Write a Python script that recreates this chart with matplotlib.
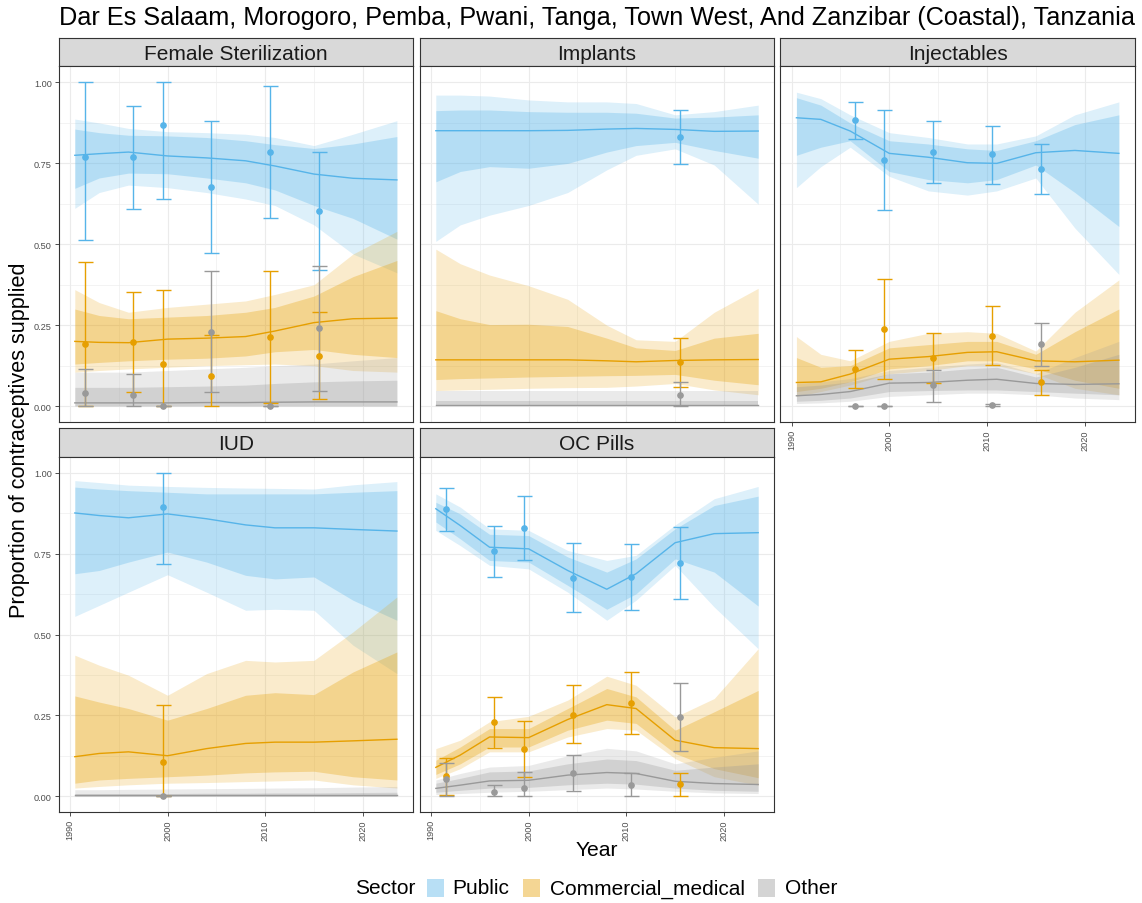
import matplotlib.pyplot as plt
from matplotlib.patches import Rectangle

plt.rcParams["font.family"] = ["Liberation Sans", "DejaVu Sans"]

SECTORS = ["Public", "Commercial_medical", "Other"]
SECTOR_COLORS = ["#56B4E9", "#E69F00", "#999999"]

# model grid shared by every panel
YEARS = [1990.5, 1993, 1996, 2000, 2004, 2008, 2011, 2015, 2019, 2023.5]

# rows: median, 80% low, 80% high, 95% low, 95% high
fs_public = [
    [0.775, 0.780, 0.785, 0.773, 0.767, 0.758, 0.742, 0.717, 0.704, 0.699],
    [0.673, 0.705, 0.720, 0.718, 0.705, 0.690, 0.668, 0.620, 0.580, 0.516],
    [0.856, 0.845, 0.837, 0.835, 0.830, 0.820, 0.808, 0.796, 0.810, 0.833],
    [0.611, 0.660, 0.683, 0.675, 0.660, 0.640, 0.620, 0.560, 0.470, 0.412],
    [0.887, 0.875, 0.858, 0.848, 0.845, 0.840, 0.830, 0.805, 0.840, 0.882],
]
fs_commercial = [
    [0.200, 0.197, 0.196, 0.207, 0.210, 0.215, 0.232, 0.258, 0.270, 0.272],
    [0.130, 0.135, 0.140, 0.145, 0.148, 0.155, 0.168, 0.175, 0.160, 0.150],
    [0.300, 0.280, 0.270, 0.275, 0.280, 0.290, 0.305, 0.340, 0.400, 0.450],
    [0.105, 0.110, 0.115, 0.120, 0.125, 0.128, 0.130, 0.125, 0.110, 0.105],
    [0.360, 0.320, 0.290, 0.305, 0.315, 0.325, 0.345, 0.375, 0.470, 0.540],
]
fs_other = [
    [0.010, 0.010, 0.010, 0.010, 0.011, 0.011, 0.012, 0.013, 0.013, 0.013],
    [0.001, 0.001, 0.001, 0.001, 0.001, 0.001, 0.001, 0.001, 0.001, 0.001],
    [0.058, 0.058, 0.058, 0.060, 0.062, 0.065, 0.070, 0.075, 0.078, 0.080],
    [0.000, 0.000, 0.000, 0.000, 0.000, 0.000, 0.000, 0.000, 0.000, 0.000],
    [0.105, 0.105, 0.105, 0.110, 0.115, 0.120, 0.125, 0.130, 0.140, 0.150],
]

imp_public = [
    [0.851, 0.851, 0.851, 0.851, 0.852, 0.856, 0.858, 0.855, 0.849, 0.850],
    [0.693, 0.725, 0.740, 0.735, 0.750, 0.785, 0.805, 0.815, 0.790, 0.766],
    [0.913, 0.915, 0.915, 0.910, 0.908, 0.908, 0.905, 0.890, 0.893, 0.900],
    [0.509, 0.560, 0.590, 0.620, 0.660, 0.730, 0.775, 0.795, 0.745, 0.624],
    [0.961, 0.961, 0.958, 0.946, 0.940, 0.940, 0.935, 0.900, 0.910, 0.930],
]
imp_commercial = [
    [0.143, 0.143, 0.143, 0.143, 0.143, 0.140, 0.137, 0.141, 0.143, 0.144],
    [0.082, 0.085, 0.087, 0.090, 0.092, 0.094, 0.095, 0.098, 0.080, 0.066],
    [0.295, 0.270, 0.252, 0.253, 0.246, 0.210, 0.180, 0.172, 0.210, 0.225],
    [0.048, 0.050, 0.052, 0.055, 0.057, 0.058, 0.062, 0.070, 0.050, 0.035],
    [0.485, 0.440, 0.405, 0.372, 0.330, 0.250, 0.205, 0.200, 0.290, 0.364],
]
imp_other = [
    [0.002, 0.002, 0.002, 0.002, 0.002, 0.002, 0.002, 0.002, 0.002, 0.002],
    [0.000, 0.000, 0.000, 0.000, 0.000, 0.000, 0.000, 0.000, 0.000, 0.000],
    [0.017, 0.017, 0.017, 0.017, 0.017, 0.017, 0.017, 0.017, 0.017, 0.017],
    [0.000, 0.000, 0.000, 0.000, 0.000, 0.000, 0.000, 0.000, 0.000, 0.000],
    [0.046, 0.046, 0.046, 0.046, 0.046, 0.046, 0.046, 0.046, 0.046, 0.046],
]

inj_public = [
    [0.891, 0.886, 0.850, 0.781, 0.769, 0.752, 0.750, 0.783, 0.790, 0.781],
    [0.775, 0.800, 0.820, 0.725, 0.700, 0.690, 0.700, 0.745, 0.660, 0.555],
    [0.953, 0.930, 0.875, 0.820, 0.810, 0.795, 0.790, 0.820, 0.870, 0.900],
    [0.675, 0.740, 0.800, 0.710, 0.665, 0.652, 0.665, 0.705, 0.550, 0.407],
    [0.970, 0.950, 0.900, 0.845, 0.830, 0.810, 0.810, 0.835, 0.900, 0.940],
]
inj_commercial = [
    [0.073, 0.075, 0.099, 0.145, 0.153, 0.166, 0.168, 0.140, 0.137, 0.142],
    [0.045, 0.055, 0.075, 0.115, 0.125, 0.140, 0.140, 0.115, 0.080, 0.055],
    [0.150, 0.120, 0.125, 0.180, 0.190, 0.200, 0.200, 0.160, 0.230, 0.300],
    [0.030, 0.045, 0.065, 0.100, 0.110, 0.125, 0.125, 0.100, 0.055, 0.035],
    [0.215, 0.160, 0.140, 0.200, 0.225, 0.230, 0.225, 0.170, 0.290, 0.390],
]
inj_other = [
    [0.032, 0.036, 0.045, 0.071, 0.073, 0.080, 0.083, 0.070, 0.067, 0.069],
    [0.015, 0.018, 0.025, 0.045, 0.048, 0.050, 0.050, 0.045, 0.040, 0.035],
    [0.060, 0.065, 0.075, 0.100, 0.105, 0.115, 0.120, 0.090, 0.120, 0.160],
    [0.008, 0.010, 0.015, 0.030, 0.035, 0.040, 0.040, 0.035, 0.025, 0.020],
    [0.070, 0.075, 0.085, 0.110, 0.120, 0.130, 0.135, 0.100, 0.150, 0.200],
]

iud_public = [
    [0.876, 0.868, 0.861, 0.873, 0.858, 0.839, 0.830, 0.830, 0.825, 0.820],
    [0.688, 0.698, 0.724, 0.755, 0.724, 0.683, 0.672, 0.678, 0.606, 0.544],
    [0.956, 0.950, 0.945, 0.940, 0.935, 0.935, 0.935, 0.935, 0.940, 0.945],
    [0.556, 0.590, 0.631, 0.685, 0.631, 0.575, 0.578, 0.575, 0.467, 0.379],
    [0.976, 0.970, 0.962, 0.958, 0.955, 0.953, 0.952, 0.950, 0.963, 0.973],
]
iud_commercial = [
    [0.122, 0.132, 0.137, 0.125, 0.147, 0.163, 0.167, 0.167, 0.171, 0.176],
    [0.040, 0.050, 0.055, 0.060, 0.065, 0.072, 0.075, 0.077, 0.060, 0.050],
    [0.310, 0.291, 0.271, 0.235, 0.271, 0.312, 0.320, 0.314, 0.384, 0.446],
    [0.025, 0.030, 0.035, 0.040, 0.042, 0.045, 0.047, 0.050, 0.035, 0.025],
    [0.436, 0.405, 0.374, 0.312, 0.379, 0.420, 0.415, 0.420, 0.508, 0.616],
]
iud_other = [
    [0.002, 0.002, 0.002, 0.002, 0.002, 0.002, 0.002, 0.002, 0.002, 0.002],
    [0.000, 0.000, 0.000, 0.000, 0.000, 0.000, 0.000, 0.000, 0.000, 0.000],
    [0.008, 0.008, 0.008, 0.008, 0.009, 0.009, 0.010, 0.010, 0.011, 0.012],
    [0.000, 0.000, 0.000, 0.000, 0.000, 0.000, 0.000, 0.000, 0.000, 0.000],
    [0.020, 0.020, 0.021, 0.022, 0.023, 0.024, 0.025, 0.026, 0.028, 0.030],
]

oc_public = [
    [0.889, 0.837, 0.770, 0.765, 0.698, 0.640, 0.688, 0.784, 0.812, 0.815],
    [0.848, 0.796, 0.729, 0.724, 0.652, 0.578, 0.626, 0.734, 0.693, 0.588],
    [0.909, 0.873, 0.810, 0.806, 0.740, 0.693, 0.734, 0.827, 0.899, 0.928],
    [0.822, 0.775, 0.714, 0.703, 0.631, 0.544, 0.606, 0.714, 0.585, 0.456],
    [0.935, 0.894, 0.827, 0.822, 0.760, 0.729, 0.745, 0.839, 0.920, 0.958],
]
oc_commercial = [
    [0.089, 0.127, 0.183, 0.181, 0.237, 0.283, 0.271, 0.173, 0.150, 0.147],
    [0.067, 0.100, 0.152, 0.152, 0.204, 0.235, 0.225, 0.132, 0.085, 0.057],
    [0.111, 0.152, 0.209, 0.209, 0.271, 0.333, 0.307, 0.204, 0.261, 0.327],
    [0.055, 0.085, 0.137, 0.137, 0.183, 0.209, 0.204, 0.116, 0.060, 0.034],
    [0.147, 0.173, 0.230, 0.247, 0.297, 0.371, 0.343, 0.245, 0.302, 0.456],
]
oc_other = [
    [0.024, 0.034, 0.047, 0.049, 0.065, 0.073, 0.070, 0.046, 0.039, 0.036],
    [0.012, 0.018, 0.025, 0.027, 0.035, 0.040, 0.037, 0.025, 0.018, 0.015],
    [0.040, 0.055, 0.075, 0.078, 0.100, 0.115, 0.110, 0.080, 0.090, 0.100],
    [0.005, 0.008, 0.012, 0.015, 0.020, 0.025, 0.022, 0.015, 0.010, 0.008],
    [0.050, 0.070, 0.090, 0.095, 0.125, 0.148, 0.140, 0.100, 0.120, 0.140],
]

# survey estimates: rows are value, low, high
fs_years = [1991.5, 1996.5, 1999.5, 2004.5, 2010.5, 2015.5]
fs_obs_public = [
    [0.769, 0.769, 0.869, 0.677, 0.786, 0.602],
    [0.512, 0.610, 0.641, 0.474, 0.582, 0.420],
    [1.000, 0.926, 1.000, 0.880, 0.990, 0.784],
]
fs_obs_commercial = [
    [0.193, 0.198, 0.131, 0.093, 0.213, 0.156],
    [0.000, 0.043, 0.000, 0.000, 0.010, 0.023],
    [0.444, 0.354, 0.358, 0.220, 0.417, 0.292],
]
fs_obs_other = [
    [0.039, 0.034, 0.000, 0.230, 0.000, 0.241],
    [0.000, 0.000, 0.000, 0.045, 0.000, 0.048],
    [0.115, 0.100, 0.000, 0.416, 0.000, 0.434],
]

imp_years = [2015.5]
imp_obs_public = [[0.832], [0.749], [0.915]]
imp_obs_commercial = [[0.137], [0.059], [0.212]]
imp_obs_other = [[0.034], [0.000], [0.073]]

inj_years = [1996.5, 1999.5, 2004.5, 2010.5, 2015.5]
inj_obs_public = [
    [0.883, 0.759, 0.785, 0.778, 0.733],
    [0.824, 0.605, 0.689, 0.687, 0.654],
    [0.941, 0.914, 0.881, 0.866, 0.810],
]
inj_obs_commercial = [
    [0.115, 0.239, 0.150, 0.218, 0.074],
    [0.057, 0.084, 0.072, 0.128, 0.035],
    [0.174, 0.393, 0.227, 0.308, 0.112],
]
inj_obs_other = [
    [0.000, 0.000, 0.064, 0.003, 0.192],
    [0.000, 0.000, 0.013, 0.000, 0.124],
    [0.000, 0.000, 0.112, 0.007, 0.258],
]

iud_years = [1999.5]
iud_obs_public = [[0.895], [0.719], [1.000]]
iud_obs_commercial = [[0.105], [0.000], [0.281]]
iud_obs_other = [[0.000], [0.000], [0.000]]

oc_years = [1991.5, 1996.5, 1999.5, 2004.5, 2010.5, 2015.5]
oc_obs_public = [
    [0.888, 0.758, 0.830, 0.676, 0.677, 0.720],
    [0.820, 0.679, 0.730, 0.570, 0.575, 0.609],
    [0.954, 0.837, 0.929, 0.782, 0.779, 0.831],
]
oc_obs_commercial = [
    [0.063, 0.229, 0.145, 0.252, 0.288, 0.037],
    [0.002, 0.150, 0.059, 0.163, 0.193, 0.000],
    [0.119, 0.306, 0.232, 0.343, 0.385, 0.072],
]
oc_obs_other = [
    [0.054, 0.014, 0.026, 0.072, 0.035, 0.245],
    [0.000, 0.000, 0.000, 0.016, 0.000, 0.139],
    [0.103, 0.033, 0.075, 0.128, 0.071, 0.350],
]

TITLE = "Dar Es Salaam, Morogoro, Pemba, Pwani, Tanga, Town West, And Zanzibar (Coastal), Tanzania"

# (name, row, col, bands, survey years, survey estimates, show x labels)
panels = [
    ("Female Sterilization", 0, 0, [fs_public, fs_commercial, fs_other], fs_years,
     [fs_obs_public, fs_obs_commercial, fs_obs_other], False),
    ("Implants", 0, 1, [imp_public, imp_commercial, imp_other], imp_years,
     [imp_obs_public, imp_obs_commercial, imp_obs_other], False),
    ("Injectables", 0, 2, [inj_public, inj_commercial, inj_other], inj_years,
     [inj_obs_public, inj_obs_commercial, inj_obs_other], True),
    ("IUD", 1, 0, [iud_public, iud_commercial, iud_other], iud_years,
     [iud_obs_public, iud_obs_commercial, iud_obs_other], True),
    ("OC Pills", 1, 1, [oc_public, oc_commercial, oc_other], oc_years,
     [oc_obs_public, oc_obs_commercial, oc_obs_other], True),
]

W, H = 1142, 904
COL_X = [(58.7, 413.0), (419.7, 774.3), (780.3, 1135.0)]
ROW_Y = [(39.3, 67.3, 423.3), (429.3, 457.7, 813.3)]
FRAME = "#333333"
GRID = "#EBEBEB"


def px_rect(x0, y0, x1, y1):
    return [x0 / W, 1 - y1 / H, (x1 - x0) / W, (y1 - y0) / H]


fig = plt.figure(figsize=(W / 100, H / 100), dpi=100)

for name, row, col, bands, years, obs, show_x in panels:
    x0, x1 = COL_X[col]
    s0, s1, y1 = ROW_Y[row]

    strip = fig.add_axes(px_rect(x0, s0, x1, s1))
    strip.set_facecolor("#D9D9D9")
    strip.set_xticks([])
    strip.set_yticks([])
    for sp in strip.spines.values():
        sp.set_color(FRAME)
        sp.set_linewidth(0.8)
    strip.text(0.5, 0.45, name, ha="center", va="center", fontsize=15, color="#1A1A1A",
               transform=strip.transAxes)

    ax = fig.add_axes(px_rect(x0, s1, x1, y1))
    ax.set_xlim(1988.85, 2025.15)
    ax.set_ylim(-0.05, 1.05)
    ax.set_xticks([1990, 2000, 2010, 2020])
    ax.set_xticks([1995, 2005, 2015], minor=True)
    ax.set_yticks([0, 0.25, 0.5, 0.75, 1.0])
    ax.set_yticks([0.125, 0.375, 0.625, 0.875], minor=True)
    ax.grid(which="major", color=GRID, linewidth=0.8)
    ax.grid(which="minor", color=GRID, linewidth=0.4)
    ax.set_axisbelow(True)
    for sp in ax.spines.values():
        sp.set_color(FRAME)
        sp.set_linewidth(0.8)

    ax.tick_params(which="minor", length=0)
    ax.tick_params(which="major", color=FRAME, width=0.6, length=3, labelsize=6.6,
                   labelcolor="#4D4D4D", pad=2)
    if show_x:
        ax.set_xticklabels(["1990", "2000", "2010", "2020"], rotation=90)
    else:
        ax.tick_params(axis="x", which="major", length=0, labelbottom=False)
    if col == 0:
        ax.set_yticklabels(["0.00", "0.25", "0.50", "0.75", "1.00"])
    else:
        ax.tick_params(axis="y", which="major", length=0, labelleft=False)

    for band, color in zip(bands, SECTOR_COLORS):
        mid, lo80, hi80, lo95, hi95 = band
        ax.fill_between(YEARS, lo95, hi95, color=color, alpha=0.2, linewidth=0)
        ax.fill_between(YEARS, lo80, hi80, color=color, alpha=0.3, linewidth=0)
    for band, color in zip(bands, SECTOR_COLORS):
        ax.plot(YEARS, band[0], color=color, linewidth=1.0)
    for est, color in zip(obs, SECTOR_COLORS):
        val, lo, hi = est
        err = [[v - l for v, l in zip(val, lo)], [h - v for v, h in zip(val, hi)]]
        ax.errorbar(years, val, yerr=err, fmt="o", color=color, ms=3.8, elinewidth=1.0,
                    capsize=5.4, capthick=1.0)

fig.text(58.7 / W, 1 - 18 / H, TITLE, ha="left", va="center", fontsize=18.2, color="black")
fig.text(20 / W, 1 - 440 / H, "Proportion of contraceptives supplied", rotation=90,
         ha="center", va="center", fontsize=15.6)
fig.text(597 / W, 1 - 851 / H, "Year", ha="center", va="center", fontsize=15.2)

# legend drawn along the bottom edge
leg_y = 889
fig.text(355 / W, 1 - leg_y / H, "Sector", ha="left", va="center", fontsize=15)
key_x = [427, 523, 758]
text_x = [452, 550, 785]
for label, color, kx, tx in zip(SECTORS, SECTOR_COLORS, key_x, text_x):
    fig.patches.append(Rectangle((kx / W, 1 - (leg_y + 9) / H), 17 / W, 18 / H,
                                 transform=fig.transFigure, facecolor=color, alpha=0.42,
                                 edgecolor="none"))
    fig.text(tx / W, 1 - leg_y / H, label, ha="left", va="center", fontsize=15)

fig.savefig("out.png", dpi=100)
